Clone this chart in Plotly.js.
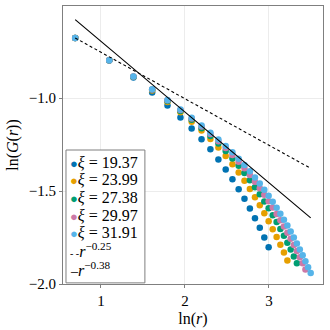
<!DOCTYPE html>
<html>
<head>
<meta charset="utf-8">
<script src="https://cdn.plot.ly/plotly-3.0.1.min.js"></script>
<style>
  html, body { margin: 0; padding: 0; background: #fff; }
  #chart { width: 330px; height: 330px; }
</style>
</head>
<body>
<div id="chart"></div>
<script>
// separation r, shared by all series (each series runs r = 2 .. N)
const rValues = [2, 3, 4, 5, 6, 7, 8, 9, 10, 11, 12, 13, 14, 15, 16, 17, 18,
    19, 20, 21, 22, 23, 24, 25, 26, 27, 28, 29, 30, 31, 32, 33];

const xiLabels = ['19.37', '23.99', '27.38', '29.97', '31.91'];

// ln(G(r))
const lnG_1937 = [-0.677, -0.798, -0.890, -0.970, -1.040, -1.104, -1.164, -1.221,
    -1.276, -1.330, -1.384, -1.437, -1.490, -1.542, -1.594, -1.646, -1.698,
    -1.750, -1.802];
const lnG_2399 = [-0.677, -0.797, -0.886, -0.959, -1.021, -1.077, -1.127, -1.174,
    -1.220, -1.266, -1.311, -1.356, -1.401, -1.445, -1.489, -1.533, -1.577,
    -1.620, -1.663, -1.705, -1.747, -1.789, -1.831, -1.873];
const lnG_2738 = [-0.677, -0.797, -0.885, -0.956, -1.016, -1.070, -1.117, -1.162,
    -1.204, -1.245, -1.285, -1.325, -1.364, -1.403, -1.442, -1.480, -1.518,
    -1.556, -1.593, -1.630, -1.667, -1.704, -1.741, -1.778, -1.815, -1.852,
    -1.889];
const lnG_2997 = [-0.677, -0.797, -0.884, -0.954, -1.012, -1.064, -1.110, -1.153,
    -1.194, -1.232, -1.269, -1.306, -1.342, -1.378, -1.414, -1.450, -1.485,
    -1.520, -1.555, -1.589, -1.623, -1.657, -1.691, -1.724, -1.757, -1.790,
    -1.823, -1.856, -1.889, -1.922];
const lnG_3191 = [-0.677, -0.797, -0.884, -0.953, -1.010, -1.061, -1.106, -1.148,
    -1.187, -1.223, -1.258, -1.292, -1.326, -1.360, -1.394, -1.427, -1.460,
    -1.493, -1.526, -1.558, -1.590, -1.622, -1.654, -1.686, -1.718, -1.750,
    -1.782, -1.814, -1.846, -1.878, -1.910, -1.941];

// reference power laws, endpoints at r = 2 and r = 33
const lineR = [2, 33];
const lawLabels = ['−0.25', '−0.38'];
const law025 = [-0.677, -1.378];
const law038 = [-0.578, -1.644];

const colors = ['#0072B2', '#E69F00', '#009E73', '#CC79A7', '#56B4E9'];
const series = [lnG_1937, lnG_2399, lnG_2738, lnG_2997, lnG_3191];

const traces = [];

series.forEach((ys, i) => {
    traces.push({
        type: 'scatter',
        mode: 'markers',
        x: rValues.slice(0, ys.length).map(r => Math.log(r)),
        y: ys,
        name: 'ξ = ' + xiLabels[i],
        marker: { color: colors[i], size: 6.5 }
    });
});

[law025, law038].forEach((ys, i) => {
    traces.push({
        type: 'scatter',
        mode: 'lines',
        x: lineR.map(r => Math.log(r)),
        y: ys,
        name: 'r^' + lawLabels[i],
        line: { color: 'black', width: 1.1, dash: i === 0 ? '3px,2.5px' : 'solid' }
    });
});

// compact legend drawn by hand, like the original figure
const legendRows = [0.438, 0.377, 0.312, 0.248, 0.184, 0.122, 0.055];
const annotations = [];
xiLabels.forEach((lab, i) => {
    annotations.push({
        xref: 'paper', yref: 'paper',
        x: 0.02, y: legendRows[i],
        xanchor: 'left', yanchor: 'middle',
        showarrow: false,
        text: '<span style="color:' + colors[i] + ';font-size:13px">●</span><i>ξ</i> = ' + lab,
        font: { size: 16, color: 'black' }
    });
});
lawLabels.forEach((lab, i) => {
    annotations.push({
        xref: 'paper', yref: 'paper',
        x: 0.018, y: legendRows[5 + i],
        xanchor: 'left', yanchor: 'middle',
        showarrow: false,
        text: (i === 0 ? '<span style="font-size:10px">- -</span>' : '<span style="font-size:14px">–</span>') +
            '<i>r</i><sup>' + lab + '</sup>',
        font: { size: 16, color: 'black' }
    });
});

const axisCommon = {
    showgrid: true,
    gridcolor: '#ececec',
    gridwidth: 1,
    zeroline: false,
    showline: true,
    linecolor: '#7f7f7f',
    linewidth: 1,
    mirror: true,
    ticks: 'outside',
    ticklen: 3,
    tickcolor: '#7f7f7f',
    tickfont: { size: 15, color: 'black' }
};

const layout = {
    width: 330,
    height: 330,
    margin: { l: 63, r: 7, t: 6, b: 46 },
    paper_bgcolor: 'white',
    plot_bgcolor: 'white',
    font: { family: '"Liberation Serif", "DejaVu Serif", serif', color: 'black' },
    xaxis: Object.assign({}, axisCommon, {
        range: [0.548, 3.643],
        tickvals: [1, 2, 3],
        title: { text: 'ln(<i>r</i>)', font: { size: 16 }, standoff: 4 }
    }),
    yaxis: Object.assign({}, axisCommon, {
        range: [-2.0, -0.505],
        tickvals: [-2.0, -1.5, -1.0],
        tickformat: '.1f',
        title: { text: 'ln(<i>G</i>(<i>r</i>))', font: { size: 16 }, standoff: 6 }
    }),
    showlegend: false,
    shapes: [{
        type: 'rect', xref: 'paper', yref: 'paper',
        x0: 0.0115, x1: 0.315, y0: 0.004, y1: 0.482,
        fillcolor: 'white',
        line: { color: '#7f7f7f', width: 1 },
        layer: 'above'
    }],
    annotations: annotations
};

Plotly.newPlot('chart', traces, layout, { displayModeBar: false, staticPlot: true });
</script>
</body>
</html>
